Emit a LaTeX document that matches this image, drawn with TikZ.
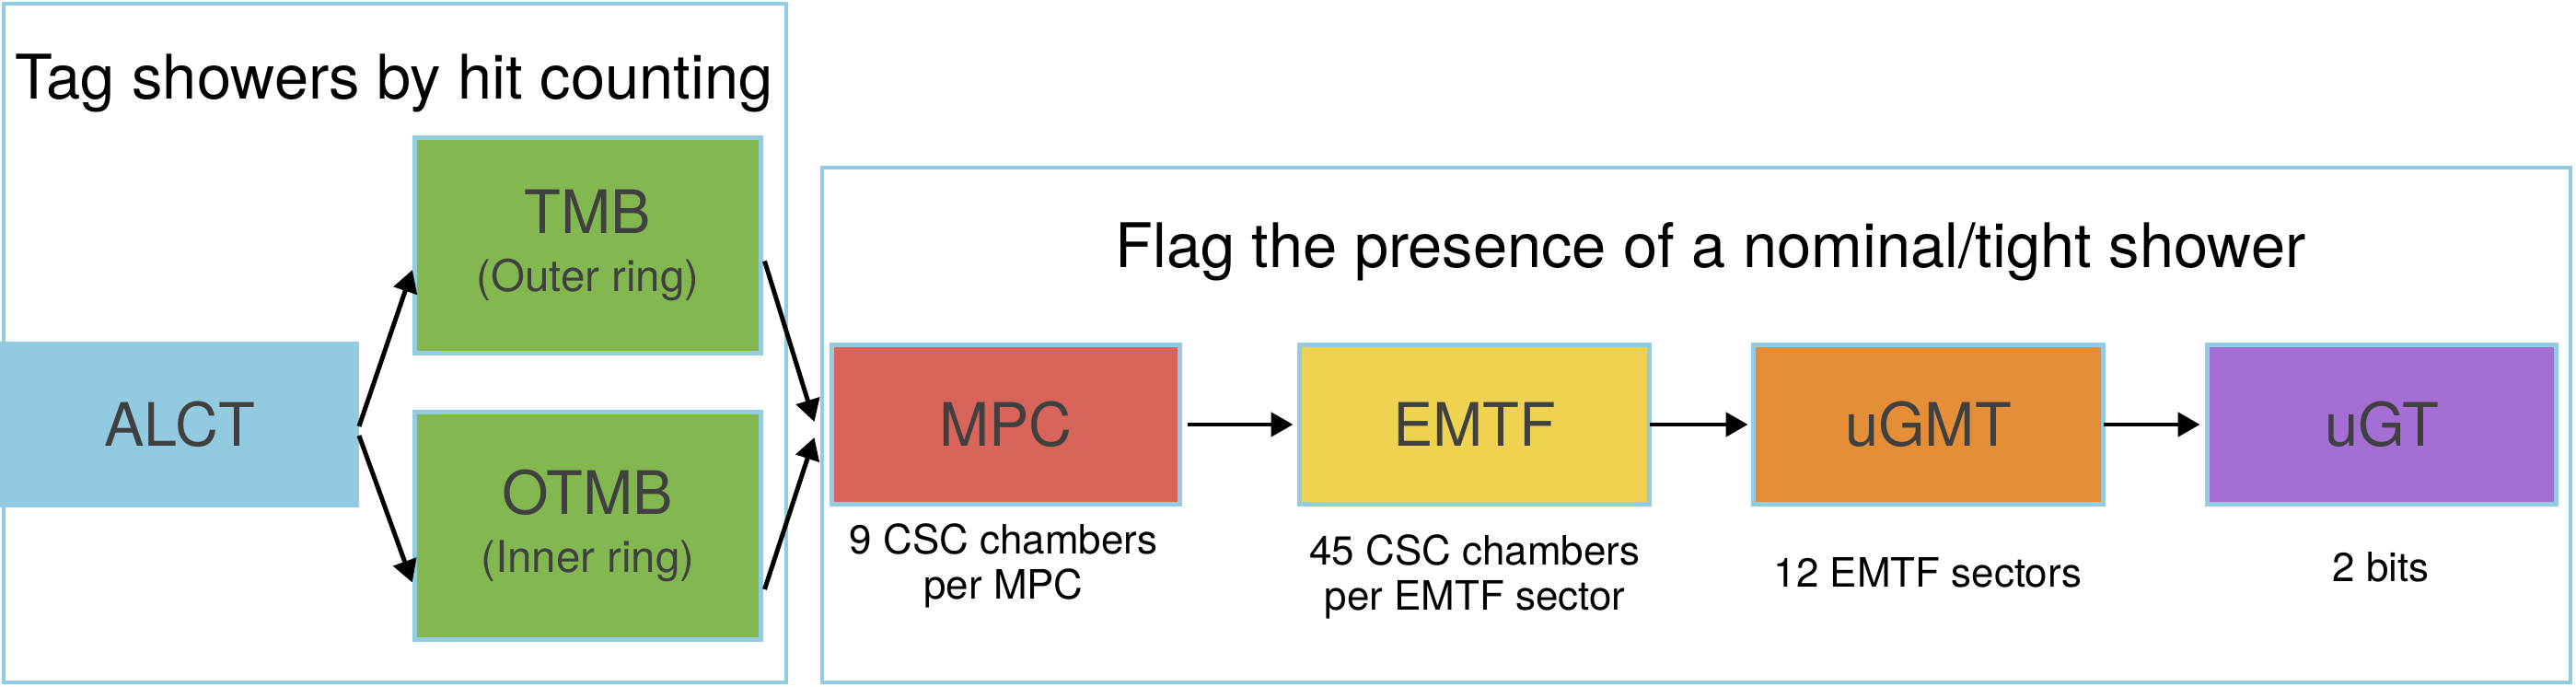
\documentclass[tikz,border=0pt]{standalone}
\usepackage{fontspec}
\setmainfont{TeX Gyre Heros}
\usepackage{xcolor}
\usepackage{tikz}
\usetikzlibrary{arrows.meta}

\definecolor{frameblue}{HTML}{93CCE0}
\definecolor{alctblue}{HTML}{92CBE1}
\definecolor{tmbgreen}{HTML}{83B851}
\definecolor{mpcred}{HTML}{D9645A}
\definecolor{emtfyellow}{HTML}{EFD350}
\definecolor{ugmtorange}{HTML}{E48F38}
\definecolor{ugtpurple}{HTML}{A46ED4}
\definecolor{boxtext}{HTML}{404040}

\newcommand{\ringfont}{\fontsize{13.5}{18}\selectfont}

\tikzset{
  frame/.style={rectangle, draw=frameblue, line width=1.3pt, inner sep=0pt, outer sep=0pt, anchor=north west},
  board/.style={rectangle, draw=frameblue, line width=1.4pt, inner sep=0pt, outer sep=0pt, anchor=north west,
    text=boxtext, align=center, font=\fontsize{18.5}{18}\selectfont},
  title/.style={anchor=base, inner sep=0pt, font=\fontsize{19}{19}\selectfont},
  note/.style={anchor=north, align=center, inner sep=0pt, font=\fontsize{12.5}{14}\selectfont},
  flow/.style={-{Triangle[length=0.24cm,width=0.26cm]}, line width=1.4pt},
}

\begin{document}
\begin{tikzpicture}
            \useasboundingbox (0,0) rectangle (27.98,-7.46);

            % Frames
            \node[frame, minimum width=8.50cm, minimum height=7.37cm] (tagframe) at (0.04,-0.04) {};
            \node[frame, minimum width=18.99cm, minimum height=5.59cm] (flagframe) at (8.93,-1.82) {};
            \node[title] (tagtitle) at (4.28,-1.08) {Tag showers by hit counting};
            \node[title] (flagtitle) at (18.58,-2.91) {Flag the presence of a nominal/tight shower};

            % Nodes
            \node[board, draw=none, fill=alctblue, minimum width=3.90cm, minimum height=1.80cm] (alct) at (0,-3.71) {ALCT};
            \node[board, fill=tmbgreen, minimum width=3.76cm, minimum height=2.34cm] (tmb) at (4.505,-1.495) {TMB\\{\ringfont (Outer ring)}};
            \node[board, fill=tmbgreen, minimum width=3.76cm, minimum height=2.47cm] (otmb) at (4.505,-4.475) {OTMB\\{\ringfont (Inner ring)}};
            \node[board, fill=mpcred, minimum width=3.78cm, minimum height=1.73cm] (mpc) at (9.035,-3.745) {MPC};
            \node[board, fill=emtfyellow, minimum width=3.80cm, minimum height=1.73cm] (emtf) at (14.115,-3.745) {EMTF};
            \node[board, fill=ugmtorange, minimum width=3.80cm, minimum height=1.73cm] (ugmt) at (19.045,-3.745) {uGMT};
            \node[board, fill=ugtpurple, minimum width=3.79cm, minimum height=1.73cm] (ugt) at (23.975,-3.745) {uGT};

            % Notes
            \node[note] (mpcnote) at (10.90,-5.68) {9 CSC chambers\\per MPC};
            \node[note] (emtfnote) at (16.02,-5.80) {45 CSC chambers\\per EMTF sector};
            \node[note] (ugmtnote) at (20.94,-6.05) {12 EMTF sectors};
            \node[note] (ugtnote) at (25.86,-5.99) {2 bits};

            % Edges
            \draw[flow, shorten >=0.08cm] ([yshift=-0.02cm]alct.east) -- ([yshift=-0.19cm]tmb.west);
            \draw[flow, shorten >=0.08cm] ([yshift=-0.12cm]alct.east) -- ([yshift=-0.69cm]otmb.west);
            \draw[flow] ([xshift=0.04cm, yshift=-0.17cm]tmb.east) -- ([xshift=-0.19cm, yshift=0.03cm]mpc.west);
            \draw[flow] ([xshift=0.04cm, yshift=-0.69cm]otmb.east) -- ([xshift=-0.19cm, yshift=-0.14cm]mpc.west);
            \draw[flow, shorten <=0.08cm, shorten >=0.07cm] (mpc) -- (emtf);
            \draw[flow, shorten >=0.06cm] (emtf) -- (ugmt);
            \draw[flow, shorten >=0.08cm] (ugmt) -- (ugt);
        \end{tikzpicture}
\end{document}
